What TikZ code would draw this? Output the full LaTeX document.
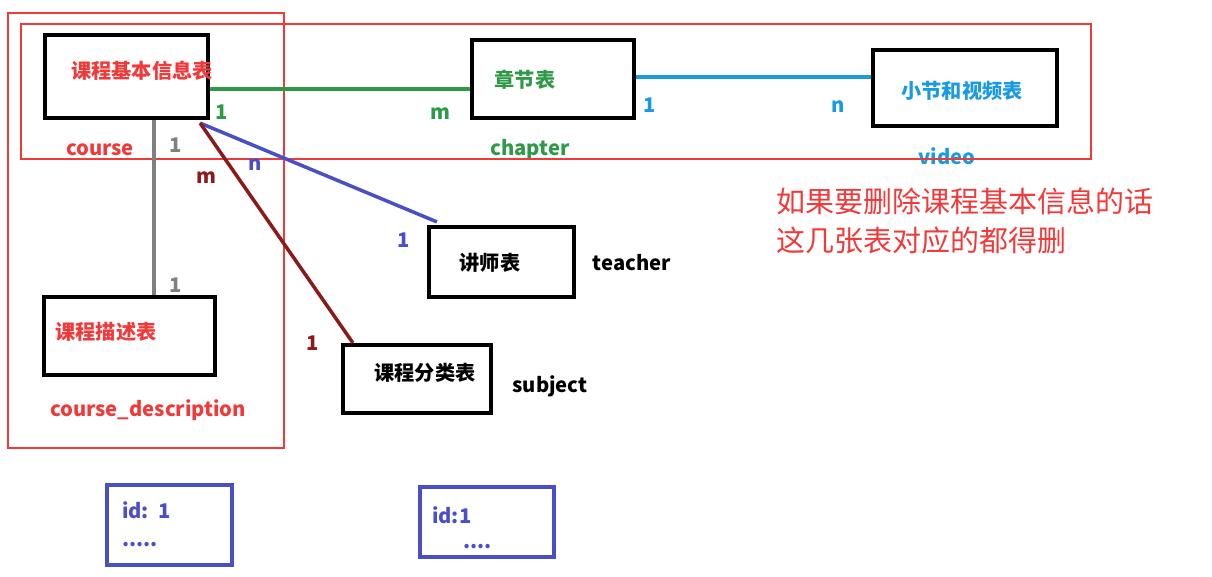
\documentclass[tikz,border=0pt]{standalone}
\usepackage{fontspec}
\setmainfont{Noto Sans CJK SC}
\usetikzlibrary{positioning}
\definecolor{tred}{HTML}{F03A3A}
\definecolor{tgreen}{HTML}{2E9A48}
\definecolor{tsky}{HTML}{1A9AE0}
\definecolor{tblue}{HTML}{4A4FC8}
\definecolor{tdark}{HTML}{8B1A1A}
\tikzset{tbl/.style={draw,line width=2.4pt,inner sep=0pt},
  lbl/.style={font=\bfseries\fontsize{11.5}{13}\selectfont},
  frame/.style={draw=tred,line width=1.6pt}}
\begin{document}
\begin{tikzpicture}[x=0.02cm,y=-0.02cm]
    \useasboundingbox (0,0) rectangle (1212,577);
    % tables
    \node[tbl,minimum width=163*0.02cm,minimum height=83*0.02cm] (course) at (126.5,76.5) {};
    \node[lbl,text=tred] at (142,71) {课程基本信息表};
    \node[tbl,minimum width=162*0.02cm,minimum height=78*0.02cm] (chapter) at (553,79) {};
    \node[lbl,text=tgreen] at (525,80) {章节表};
    \node[tbl,minimum width=184*0.02cm,minimum height=76*0.02cm] (video) at (965,88) {};
    \node[lbl,text=tsky] at (962,91) {小节和视频表};
    \node[tbl,minimum width=145*0.02cm,minimum height=70*0.02cm] (teacher) at (501.5,262) {};
    \node[lbl] at (490,263) {讲师表};
    \node[tbl,minimum width=148*0.02cm,minimum height=68*0.02cm] (subject) at (417,379) {};
    \node[lbl] at (425,373) {课程分类表};
    \node[tbl,minimum width=171*0.02cm,minimum height=78*0.02cm] (desc) at (129.5,336) {};
    \node[lbl,text=tred] at (106,332) {课程描述表};
    % english names
    \node[lbl,text=tred] (courseName) at (100,150) {course};
    \node[lbl,text=tgreen] (chapterName) at (530,150) {chapter};
    \node[lbl,text=tsky] (videoName) at (947,156) {video};
    \node[lbl] (teacherName) at (632,263) {teacher};
    \node[lbl] (subjectName) at (550,386) {subject};
    \node[lbl,text=tred] (descName) at (148,410) {course\_description};
    % frames
    \draw[frame] (8,13) rectangle (284,448);
    \draw[frame] (21,24) rectangle (1091,159);
    % relations
    \coordinate (corner) at ([xshift=-0.2cm,yshift=-0.06cm]course.south east);
    \coordinate (gy) at (0,89);
    \coordinate (sy) at (0,77);
    \coordinate (vx) at (154,0);
    \draw[tgreen,line width=2pt] (course.east |- gy) -- (chapter.west |- gy);
    \draw[tsky,line width=2pt] (chapter.east |- sy) -- (video.west |- sy);
    \draw[gray,line width=2pt] (course.south -| vx) -- (desc.north -| vx);
    \draw[tblue,line width=2pt] (corner) -- ([xshift=0.2cm,yshift=0.06cm]teacher.north west);
    \draw[tdark,line width=2pt] (corner) -- ([xshift=0.24cm]subject.north west);
    % cardinalities
    \node[lbl,text=tgreen] (c1) at (222,112) {1};
    \node[lbl,text=tgreen] (c2) at (440,114) {m};
    \node[lbl,text=tsky] (c3) at (650,105) {1};
    \node[lbl,text=tsky] (c4) at (838,107) {n};
    \node[lbl,text=gray] (c5) at (176,145) {1};
    \node[lbl,text=gray] (c6) at (176,285) {1};
    \node[lbl,text=tdark] (c7) at (206,178) {m};
    \node[lbl,text=tblue] (c8) at (255,165) {n};
    \node[lbl,text=tblue] (c9) at (404,240) {1};
    \node[lbl,text=tdark] (c10) at (313,343) {1};
    % note
    \node[text=tred,font=\fontsize{16.5}{22}\selectfont,align=left,anchor=north west] (note) at (770,182) {如果要删除课程基本信息的话\\这几张表对应的都得删};
    % sample records
    \draw[tblue,line width=2pt] (107,485) rectangle (232,565);
    \node[lbl,text=tblue,anchor=west] (rec1) at (116,510) {id:\ \ 1};
    \node[lbl,text=tblue,anchor=west] (dots1) at (116,545) {.....};
    \draw[tblue,line width=2pt] (420,487) rectangle (554,557);
    \node[lbl,text=tblue,anchor=west] (rec2) at (426,515) {id:1};
    \node[lbl,text=tblue,anchor=west] (dots2) at (457,547) {....};
\end{tikzpicture}
\end{document}
